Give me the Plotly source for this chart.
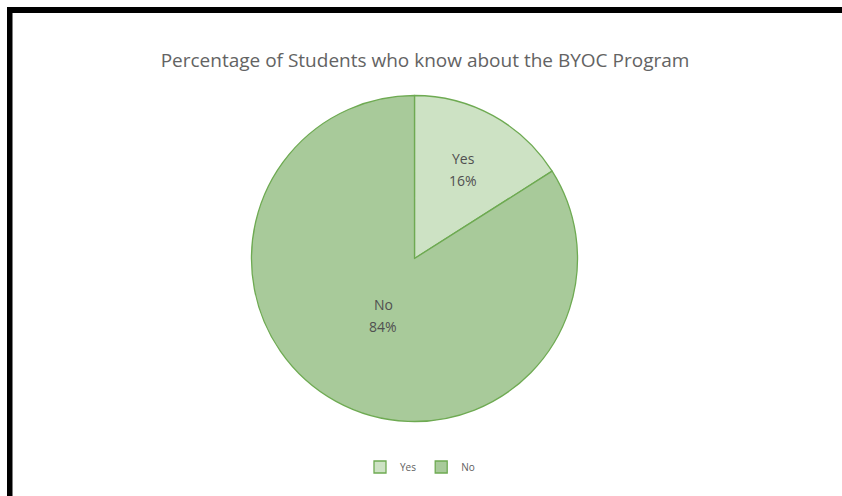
import math
import plotly.graph_objects as go

# Survey answers and their shares
labels = ["Yes", "No"]
values = [16, 84]
colors = ["#cde2c4", "#a8ca9a"]

W, H = 842, 496
cx, cy, r = 414.5, 258.5, 163.0
# how far out (as a fraction of the radius) each slice's label sits
label_depth = [0.62, 0.40]

FONT = "Open Sans, sans-serif"

fig = go.Figure(
    go.Pie(
        labels=labels,
        values=values,
        sort=False,
        direction="clockwise",
        rotation=0,
        marker=dict(colors=colors, line=dict(color="#6eaa52", width=1.3)),
        textinfo="none",
        hoverinfo="label+percent",
        domain=dict(x=[(cx - r) / W, (cx + r) / W], y=[(H - cy - r) / H, (H - cy + r) / H]),
    )
)

# slice labels: name on one line, share on the next, at each slice's mid-angle
annotations = []
total = sum(values)
start = 0.0
for lab, val, depth in zip(labels, values, label_depth):
    mid = (start + val / 2) / total * 2 * math.pi
    start += val
    px = cx + depth * r * math.sin(mid)
    py = cy - depth * r * math.cos(mid)
    pct = f"{round(100 * val / total)}%"
    for txt, dy in ((lab, -11), (pct, 11)):
        annotations.append(
            dict(
                text=txt,
                x=px / W,
                y=1 - (py + dy) / H,
                xref="paper",
                yref="paper",
                xanchor="center",
                yanchor="middle",
                showarrow=False,
                font=dict(family=FONT, size=14, color="#505050"),
            )
        )

fig.update_layout(
    width=W,
    height=H,
    margin=dict(l=0, r=0, t=0, b=0),
    paper_bgcolor="white",
    plot_bgcolor="white",
    title=dict(
        text="Percentage of Students who know about the BYOC Program",
        x=425 / W,
        xanchor="center",
        y=1 - 60 / H,
        yanchor="middle",
        font=dict(family=FONT, size=19, color="#636363"),
    ),
    showlegend=True,
    legend=dict(
        orientation="h",
        x=420 / W,
        xanchor="center",
        y=1 - 467 / H,
        yanchor="middle",
        font=dict(family=FONT, size=10, color="#606060"),
        itemwidth=30,
        traceorder="normal",
    ),
    annotations=annotations,
    shapes=[
        # dark frame along the top and left edges
        dict(type="rect", xref="paper", yref="paper", x0=7 / W, x1=1, y0=1 - 13 / H, y1=1 - 7 / H,
             fillcolor="black", line=dict(width=0)),
        dict(type="rect", xref="paper", yref="paper", x0=7 / W, x1=12.5 / W, y0=0, y1=1 - 7 / H,
             fillcolor="black", line=dict(width=0)),
    ],
)

fig.write_html("out.html")
